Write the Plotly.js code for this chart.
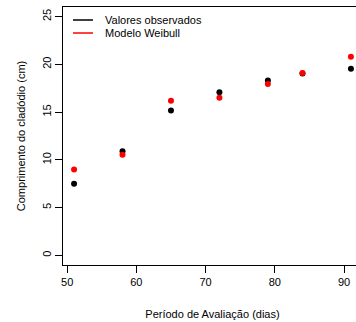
<!DOCTYPE html>
<html>
<head>
<meta charset="utf-8">
<script src="https://cdn.plot.ly/plotly-3.0.1.min.js"></script>
<style>
html,body{margin:0;padding:0;overflow:hidden;background:#fff;}
#chart{width:364px;height:322px;}
</style>
</head>
<body>
<div id="chart"></div>
<script>
const dias = [51, 58, 65, 72, 79, 84, 91];
const observados = [7.5, 10.9, 15.17, 17.08, 18.3, 19.05, 19.55];
const weibull = [9.0, 10.53, 16.2, 16.5, 17.95, 19.1, 20.8];
const xTicks = [50, 60, 70, 80, 90];
const yTicks = [0, 5, 10, 15, 20, 25];
const seriesNames = ['Valores observados', 'Modelo Weibull'];
const seriesColors = ['#000000', '#ff0000'];

const font = {family: 'Liberation Sans, Arial, sans-serif', size: 11, color: '#000'};

const traces = [
  {x: dias, y: observados, mode: 'markers', type: 'scatter', name: seriesNames[0],
   marker: {color: seriesColors[0], size: 6}},
  {x: dias, y: weibull, mode: 'markers', type: 'scatter', name: seriesNames[1],
   marker: {color: seriesColors[1], size: 6}}
];

// legend drawn as lines + text (R style, lty = 1)
const legX0 = 0.0334, legX1 = 0.1003, legTextX = 0.1338;
const legY = [0.9496, 0.8992];
const shapes = seriesNames.map((n, i) => ({
  type: 'line', xref: 'paper', yref: 'paper',
  x0: legX0, x1: legX1, y0: legY[i], y1: legY[i],
  line: {color: seriesColors[i], width: 1.5}
}));
const annotations = seriesNames.map((n, i) => ({
  xref: 'paper', yref: 'paper', x: legTextX, y: legY[i],
  xanchor: 'left', yanchor: 'middle', text: n, showarrow: false, font: font
}));

const layout = {
  width: 364, height: 322,
  margin: {l: 63, r: 2, t: 7, b: 57},
  paper_bgcolor: '#fff', plot_bgcolor: '#fff',
  font: font,
  showlegend: false,
  shapes: shapes,
  annotations: annotations,
  xaxis: {range: [49.4, 92.6], tickvals: xTicks, ticktext: xTicks.map(String),
          showgrid: false, zeroline: false, showline: true, mirror: true,
          linecolor: '#000', linewidth: 1, ticks: 'outside', ticklen: 7, tickcolor: '#000',
          tickfont: font,
          title: {text: 'Período de Avaliação (dias)', font: font, standoff: 23}},
  yaxis: {range: [-1, 26], tickvals: yTicks, ticktext: yTicks.map(String),
          showgrid: false, zeroline: false, showline: true, mirror: true,
          linecolor: '#000', linewidth: 1, ticks: 'outside', ticklen: 7, tickcolor: '#000',
          tickangle: -90, tickfont: font,
          title: {text: 'Comprimento do cladódio (cm)', font: font, standoff: 12}}
};

Plotly.newPlot('chart', traces, layout, {displayModeBar: false, staticPlot: true});
</script>
</body>
</html>
